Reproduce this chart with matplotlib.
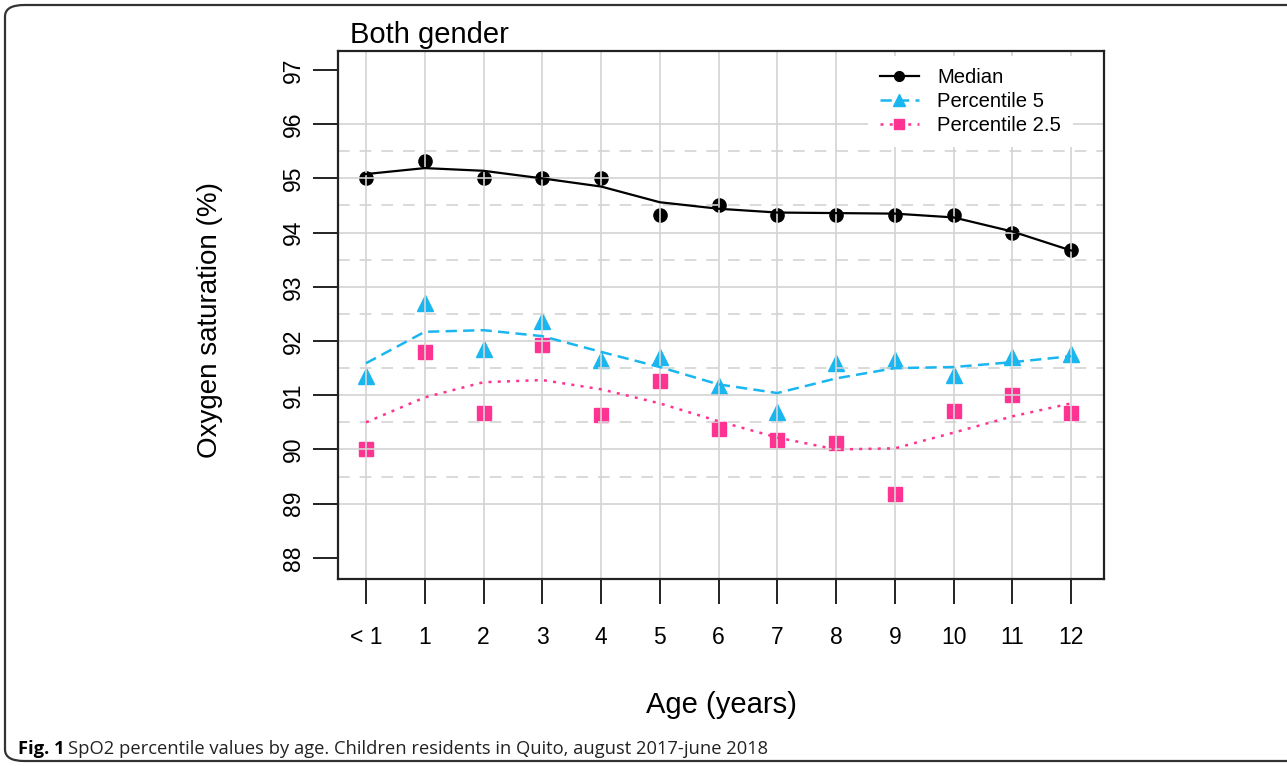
import matplotlib.pyplot as plt
import numpy as np
from matplotlib.patches import FancyBboxPatch

plt.rcParams['font.family'] = ['Liberation Sans', 'DejaVu Sans']

ages = ['< 1', '1', '2', '3', '4', '5', '6', '7', '8', '9', '10', '11', '12']

# observed values
median = [95.0, 95.33, 95.0, 95.0, 95.0, 94.33, 94.5, 94.33, 94.33, 94.33, 94.33, 94.0, 93.67]
p5 = [91.35, 92.7, 91.85, 92.37, 91.65, 91.7, 91.17, 90.69, 91.6, 91.65, 91.37, 91.7, 91.76]
p25 = [90.0, 91.8, 90.67, 91.93, 90.63, 91.27, 90.38, 90.17, 90.12, 89.17, 90.71, 91.0, 90.67]

# smoothed curves
median_fit = [95.08, 95.19, 95.14, 95.0, 94.85, 94.56, 94.44, 94.37, 94.36, 94.35, 94.28, 94.02, 93.67]
p5_fit = [91.59, 92.17, 92.2, 92.09, 91.8, 91.52, 91.2, 91.04, 91.31, 91.5, 91.52, 91.61, 91.72]
p25_fit = [90.5, 90.96, 91.24, 91.28, 91.11, 90.85, 90.52, 90.22, 90.0, 90.02, 90.31, 90.61, 90.85]

yticks = [88, 89, 90, 91, 92, 93, 94, 95, 96, 97]
grid_major = [89, 90, 91, 92, 93, 94, 95, 96]
grid_minor = [89.5, 90.5, 91.5, 92.5, 93.5, 94.5, 95.5]

blue = '#1AB6F0'
pink = '#FF3391'
gridc = '#D3D3D3'

fig = plt.figure(figsize=(12.87, 7.66), dpi=100)
ax = fig.add_axes([337.5 / 1287, 1 - 579 / 766, (1104 - 337.5) / 1287, (579 - 51) / 766])

x = np.arange(1, len(ages) + 1)

for g in grid_major:
    ax.axhline(g, color=gridc, lw=1.2, zorder=2.5)
for g in grid_minor:
    ax.axhline(g, color=gridc, lw=1.2, ls=(0, (7, 6)), zorder=2.5)
for xi in x:
    ax.axvline(xi, color=gridc, lw=1.2, zorder=2.5)

ax.plot(x, median, 'o', color='black', ms=9.5, zorder=2)
ax.plot(x, p5, '^', color=blue, ms=11, zorder=2)
ax.plot(x, p25, 's', color=pink, ms=9.5, zorder=2)

ax.plot(x, median_fit, '-', color='black', lw=1.6, zorder=3)
ax.plot(x, p5_fit, color=blue, lw=1.8, ls=(0, (4.5, 2.5)), zorder=3)
ax.plot(x, p25_fit, color=pink, lw=1.8, ls=(0, (1.2, 2.5)), zorder=3)

# legend handles
h1, = ax.plot([], [], '-o', color='black', lw=1.6, ms=7)
h2, = ax.plot([], [], '^', color=blue, lw=1.8, ls=(0, (4.5, 2.5)), ms=9)
h3, = ax.plot([], [], 's', color=pink, lw=1.8, ls=(0, (1.2, 2.5)), ms=7.5)
leg = ax.legend([h1, h2, h3], ['Median', 'Percentile 5', 'Percentile 2.5'],
                loc='upper right', bbox_to_anchor=((1073 - 337.5) / 766.5, (579 - 56) / 528),
                borderaxespad=0, frameon=True, fancybox=False, framealpha=1,
                facecolor='white', edgecolor='none', fontsize=14.6,
                handlelength=1.9, handletextpad=0.9, labelspacing=0.25,
                borderpad=0.6, numpoints=1)
leg.set_zorder(5)

ax.set_xlim(0.515, 13.56)
ax.set_ylim(87.61, 97.35)
ax.set_xticks(x)
ax.set_xticklabels(ages)
ax.set_yticks(yticks)
ax.set_yticklabels([str(v) for v in yticks], rotation=90, va='center')
ax.tick_params(axis='both', length=18, width=1.4, labelsize=16.5, color='#222222')
ax.tick_params(axis='x', pad=15.5)
ax.tick_params(axis='y', pad=5.5)
for s in ax.spines.values():
    s.set_linewidth(1.6)
    s.set_color('#222222')

fig.text(350 / 1287, 1 - 43 / 766, 'Both gender', fontsize=21, va='baseline', ha='left')
fig.text(721 / 1287, 1 - 705 / 766, 'Age (years)', fontsize=21, ha='center', va='center')
fig.text(210 / 1287, 1 - 320 / 766, 'Oxygen saturation (%)', fontsize=20, rotation=90,
         ha='center', va='center')

fig.text(18 / 1287, 1 - 754 / 766, 'Fig. 1', fontsize=13.2, fontweight='bold',
         family='Open Sans', va='baseline', ha='left')
fig.text(68 / 1287, 1 - 754 / 766,
         'SpO2 percentile values by age. Children residents in Quito, august 2017-june 2018',
         fontsize=13.2, family='Open Sans', va='baseline', ha='left', color='#222222')

box = FancyBboxPatch((5 / 1287, 5 / 766), 1400 / 1287, 756 / 766,
                     boxstyle='round,pad=0,rounding_size=0.015', transform=fig.transFigure,
                     fill=False, edgecolor='#333333', lw=1.6)
fig.patches.append(box)

fig.savefig('out.png', dpi=100)
